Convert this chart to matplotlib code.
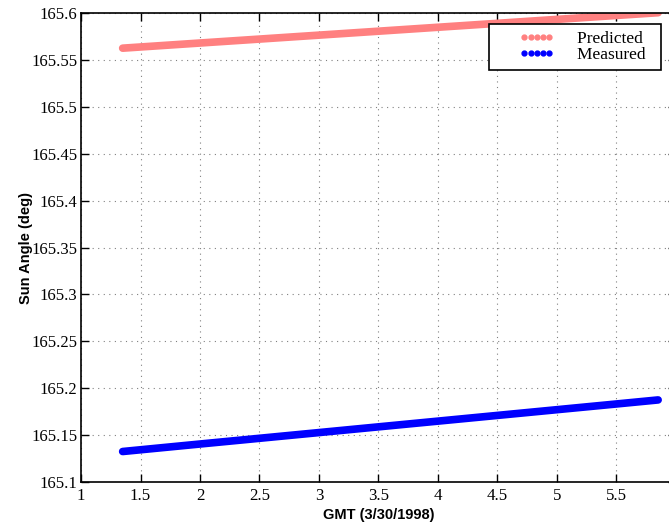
import matplotlib
matplotlib.use('Agg')
import matplotlib.pyplot as plt
from matplotlib.lines import Line2D
from matplotlib.legend_handler import HandlerLine2D

# GMT hours on 3/30/1998 and the sun angle
gmt = [1.35, 2.0, 2.5, 3.0, 3.5, 4.0, 4.5, 5.0, 5.5, 5.85]
predicted = [165.5625, 165.5680, 165.5722, 165.5764, 165.5806, 165.5848,
             165.5890, 165.5932, 165.5974, 165.6003]
measured = [165.1325, 165.1405, 165.1466, 165.1527, 165.1588, 165.1649,
            165.1710, 165.1771, 165.1832, 165.1875]

x_ticks = [1, 1.5, 2, 2.5, 3, 3.5, 4, 4.5, 5, 5.5]
y_ticks = [165.1, 165.15, 165.2, 165.25, 165.3, 165.35, 165.4, 165.45,
           165.5, 165.55, 165.6]

pred_color = '#ff8080'
meas_color = '#0000ff'

fig = plt.figure(figsize=(6.69, 5.26), dpi=100)
ax = fig.add_axes([81 / 669, 44 / 526, 595 / 669, 469 / 526])

ax.plot(gmt, predicted, color=pred_color, linewidth=5.5, solid_capstyle='round')
ax.plot(gmt, measured, color=meas_color, linewidth=5.5, solid_capstyle='round')

ax.set_xlim(1, 6)
ax.set_ylim(165.1, 165.6)
ax.set_xticks(x_ticks)
ax.set_yticks(y_ticks)
ax.set_xticklabels(['%g' % t for t in x_ticks], family='Liberation Serif', fontsize=12.2)
ax.set_yticklabels(['%g' % t for t in y_ticks], family='Liberation Serif', fontsize=12)

ax.grid(True, linestyle=(0, (1, 4)), color='#808080', linewidth=0.8)
ax.tick_params(direction='in', length=6, width=1, top=True, right=True, pad=4)
ax.tick_params(axis='y', pad=2.5)
for s in ax.spines.values():
    s.set_linewidth(1.2)

ax.set_xlabel('GMT (3/30/1998)', family='Liberation Sans', fontweight='bold',
              fontsize=10.5, labelpad=3.5)
ax.set_ylabel('Sun Angle (deg)', family='Liberation Sans', fontweight='bold',
              fontsize=10.5, labelpad=-1)

handles = [
    Line2D([0], [0], color=pred_color, marker='o', linestyle='none', markersize=3.5),
    Line2D([0], [0], color=meas_color, marker='o', linestyle='none', markersize=3.5),
]
leg = ax.legend(handles, ['Predicted  ', 'Measured  '], loc='upper right',
                bbox_to_anchor=(580 / 595, 458 / 469), borderaxespad=0,
                numpoints=5, fancybox=False, framealpha=1, edgecolor='black',
                handlelength=3.36, handletextpad=1.3, borderpad=0.4,
                labelspacing=0.0,
                handler_map={Line2D: HandlerLine2D(numpoints=5, xpad=1.35)},
                prop={'family': 'Liberation Serif', 'size': 12.5})
leg.get_frame().set_linewidth(1.2)

fig.savefig('out.png', dpi=100)
